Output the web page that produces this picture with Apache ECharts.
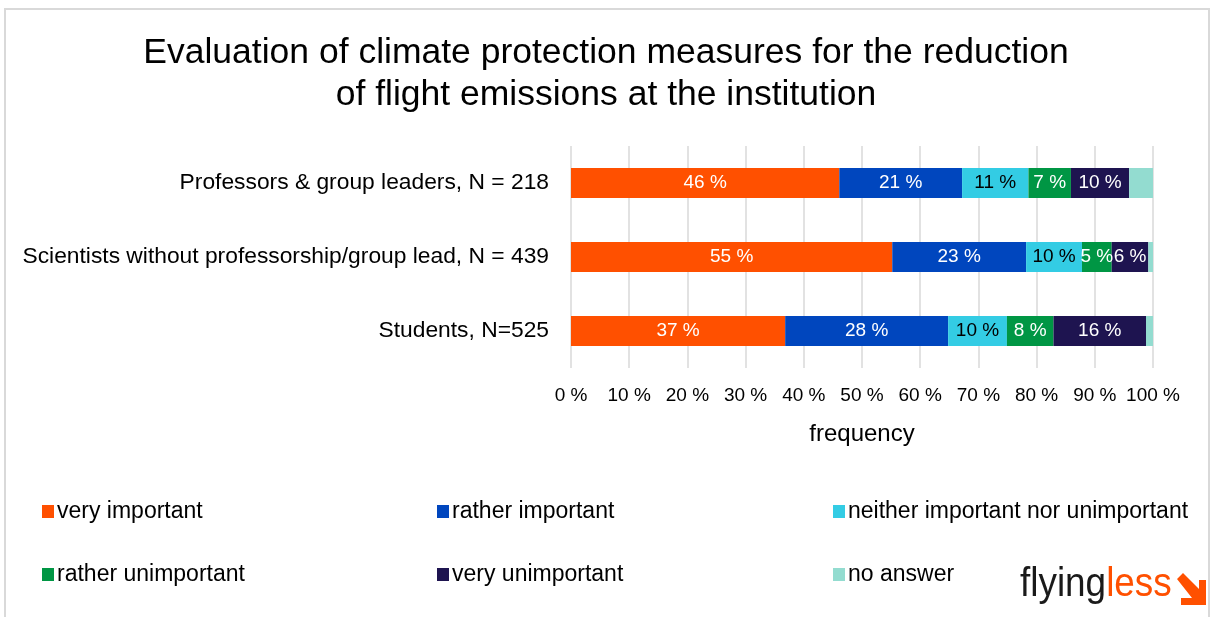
<!DOCTYPE html>
<html>
<head>
<meta charset="utf-8">
<script src="https://cdn.jsdelivr.net/npm/echarts@6/dist/echarts.min.js"></script>
<style>
html,body{margin:0;padding:0;background:#fff;}
#chart{width:1212px;height:617px;}
</style>
</head>
<body>
<div id="chart"></div>
<script>
const categories = [
  "Professors & group leaders, N = 218",
  "Scientists without professorship/group lead, N = 439",
  "Students, N=525"
];
const seriesNames = [
  "very important",
  "rather important",
  "neither important nor unimportant",
  "rather unimportant",
  "very unimportant",
  "no answer"
];
const veryImportant = [46.1, 55.2, 36.8];
const ratherImportant = [21.1, 23.0, 28.0];
const neitherNor = [11.4, 9.6, 10.1];
const ratherUnimportant = [7.3, 5.1, 8.0];
const veryUnimportant = [10.0, 6.3, 15.9];
const noAnswer = [4.1, 0.8, 1.2];
const xTicks = [0, 10, 20, 30, 40, 50, 60, 70, 80, 90, 100];

const colors = ["#FF5000", "#0046BE", "#33CCE4", "#009644", "#1E1450", "#93DCD0"];
const labelColors = ["#fff", "#fff", "#000", "#fff", "#fff", "#fff"];
const values = [veryImportant, ratherImportant, neitherNor, ratherUnimportant, veryUnimportant, noAnswer];
const FONT = "Liberation Sans";

const chart = echarts.init(document.getElementById('chart'), null, {renderer: 'canvas'});

const series = seriesNames.map((name, i) => ({
  name: name,
  type: 'bar',
  stack: 'total',
  data: values[i],
  barWidth: 30,
  itemStyle: {color: colors[i]},
  label: {
    show: i < 5,
    position: 'inside',
    color: labelColors[i],
    fontFamily: FONT,
    fontSize: 19,
    formatter: p => Math.round(p.value) + ' %'
  },
  emphasis: {disabled: true}
}));

function legendCol(left, items) {
  return {
    orient: 'vertical',
    left: left,
    top: 495,
    itemGap: 40,
    itemWidth: 12,
    itemHeight: 13,
    icon: 'rect',
    data: items,
    textStyle: {fontFamily: FONT, fontSize: 23, color: '#000', padding: [0, 0, 0, -2]},
    selectedMode: false
  };
}

const option = {
  backgroundColor: '#fff',
  animation: false,
  title: {
    text: "Evaluation of climate protection measures for the reduction\nof flight emissions at the institution",
    left: 'center',
    top: 27,
    textStyle: {fontFamily: FONT, fontSize: 35.5, fontWeight: 'normal', color: '#000', lineHeight: 42}
  },
  grid: {left: 571, right: 59, top: 146, height: 222, containLabel: false},
  xAxis: {
    type: 'value',
    min: 0, max: 100, interval: 10,
    axisLine: {show: false},
    axisTick: {show: false},
    splitLine: {show: true, lineStyle: {color: '#d9d9d9', width: 1.5}},
    axisLabel: {
      margin: 18,
      fontFamily: FONT, fontSize: 19, color: '#000',
      formatter: v => xTicks.includes(v) ? v + ' %' : ''
    },
    name: 'frequency',
    nameLocation: 'middle',
    nameGap: 54,
    nameTextStyle: {fontFamily: FONT, fontSize: 24, color: '#000'}
  },
  yAxis: {
    type: 'category',
    inverse: true,
    data: categories,
    axisLine: {show: false},
    axisTick: {show: false},
    axisLabel: {margin: 22, fontFamily: FONT, fontSize: 22.8, color: '#000'}
  },
  legend: [
    legendCol(37, [seriesNames[0], seriesNames[3]]),
    legendCol(432, [seriesNames[1], seriesNames[4]]),
    legendCol(828, [seriesNames[2], seriesNames[5]])
  ],
  graphic: [
    {type: 'rect', shape: {x: 5, y: 9, width: 1204, height: 620}, style: {fill: 'none', stroke: '#d9d9d9', lineWidth: 2}, silent: true},
    {type: 'text', left: 1020, top: 564, scaleX: 0.9, style: {
      text: '{a|flying}{b|less}',
      rich: {
        a: {fontFamily: FONT, fontSize: 41, fill: '#1a1a1a', fontWeight: 'normal'},
        b: {fontFamily: FONT, fontSize: 41, fill: '#FF5000', fontWeight: 'normal'}
      }
    }},
    {type: 'polygon', shape: {points: [[1183,573],[1199,589],[1199,580],[1206,580],[1206,605],[1181,605],[1181,598],[1192,598],[1177,579]]}, style: {fill: '#FF5000'}}
  ],
  series: series
};
chart.setOption(option);
</script>
</body>
</html>
